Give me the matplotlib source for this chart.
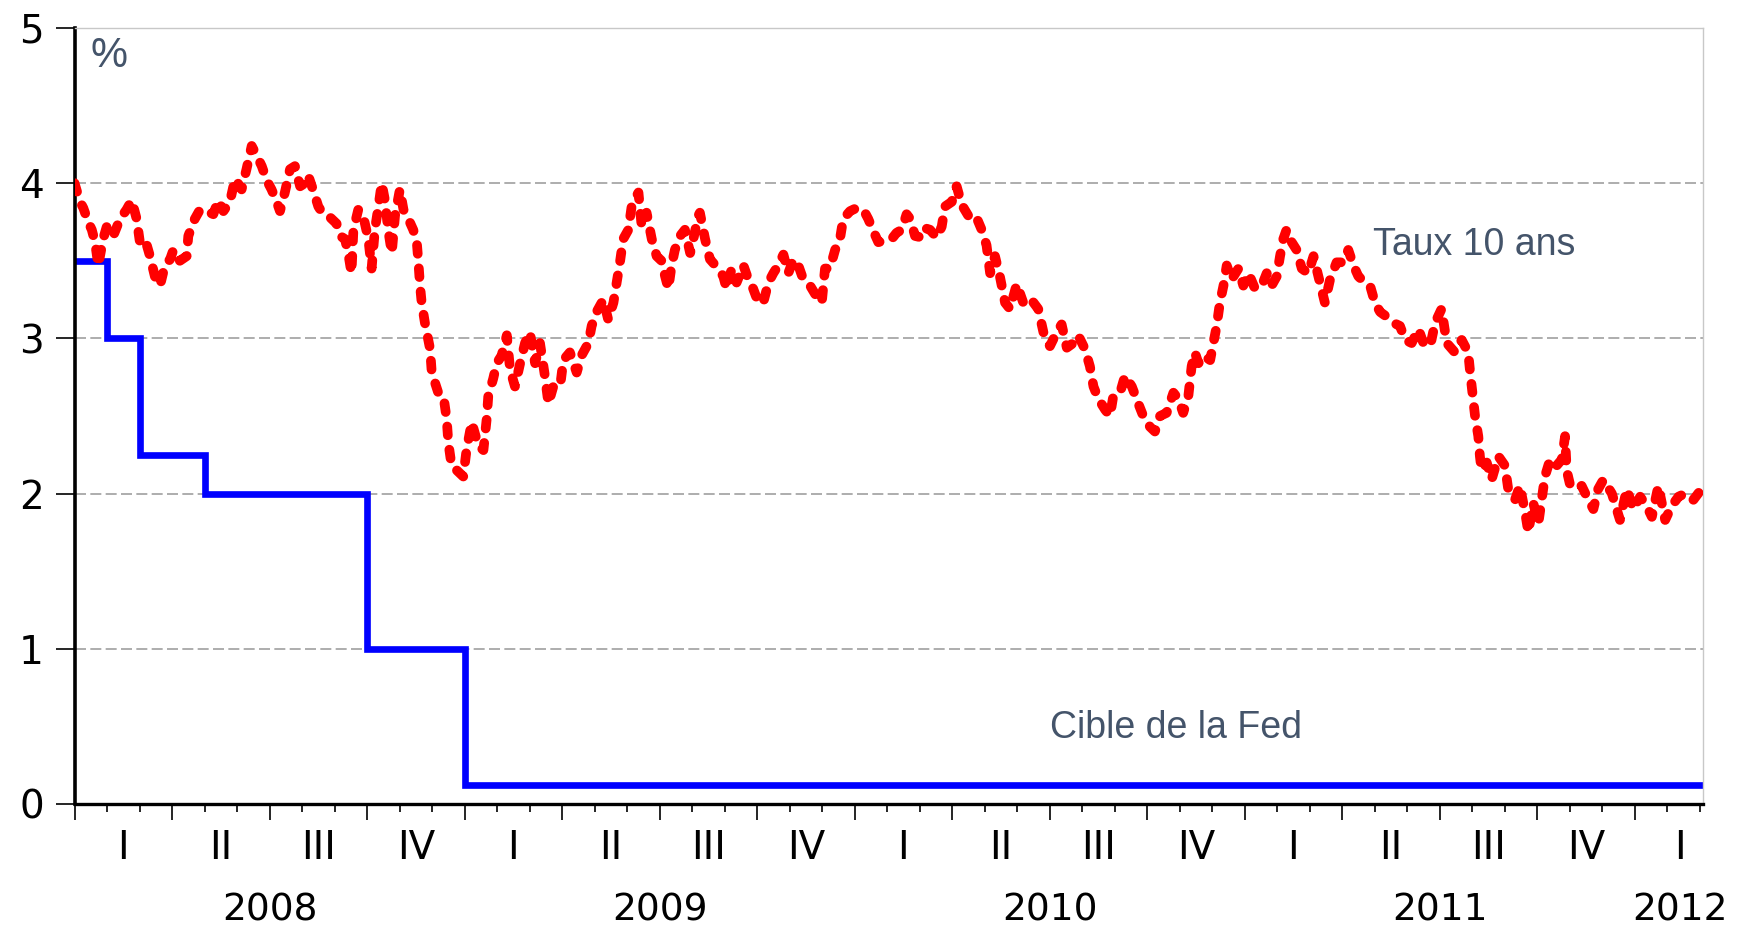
import matplotlib
matplotlib.use("Agg")
import matplotlib.pyplot as plt

# x = months since Jan 2008
taux_mois = [0.00, 0.17, 0.27, 0.42, 0.53, 0.63, 0.73, 0.88, 0.99, 1.19, 1.40, 1.60, 1.76, 1.91, 2.01, 2.17,
             2.32, 2.47, 2.63, 2.78, 2.94, 3.04, 3.24, 3.45, 3.50, 3.70, 3.86, 4.06, 4.27, 4.42, 4.58, 4.78,
             4.94, 5.14, 5.29, 5.45, 5.60, 5.76, 5.91, 6.06, 6.22, 6.32, 6.47, 6.63, 6.78, 6.94, 7.09, 7.19,
             7.35, 7.50, 7.65, 7.86, 8.06, 8.17, 8.32, 8.42, 8.52,
             8.58, 8.73, 8.88, 9.04, 9.14, 9.24, 9.35, 9.45, 9.55, 9.65, 9.76, 9.86, 10.01, 10.12, 10.27,
             10.42, 10.53, 10.58, 10.63, 10.68, 10.78, 10.94, 10.99, 11.19, 11.35, 11.45, 11.50, 11.60,
             11.76, 11.96, 12.06, 12.22, 12.42, 12.58, 12.68, 12.73, 12.88, 12.99, 13.14, 13.30, 13.40,
             13.55, 13.71, 13.86, 14.01, 14.17, 14.32, 14.47, 14.58, 14.73, 14.94, 15.04, 15.24, 15.45,
             15.60, 15.81, 15.91, 16.06, 16.27, 16.42, 16.58, 16.68, 16.78, 16.88, 17.04, 17.14,
             17.19, 17.35, 17.45, 17.60, 17.76, 17.91, 18.06, 18.17, 18.27, 18.37, 18.47, 18.63, 18.78,
             18.94, 19.04, 19.19, 19.24, 19.40, 19.55, 19.76, 19.96, 20.06, 20.22, 20.37, 20.58, 20.73,
             20.88, 21.04, 21.19, 21.35, 21.50, 21.65, 21.81, 21.96, 22.12, 22.27, 22.42, 22.63, 22.83,
             22.99, 23.09, 23.24, 23.40, 23.55, 23.65, 23.86, 24.06, 24.27, 24.42, 24.58, 24.73, 24.94,
             25.14, 25.29, 25.45, 25.60,
             25.71, 25.86, 26.06, 26.17, 26.32, 26.53, 26.68, 26.78, 26.99, 27.14, 27.30, 27.50, 27.71,
             27.91, 28.06, 28.17, 28.32, 28.47, 28.63, 28.78, 28.99, 29.19, 29.40, 29.65, 29.81, 30.01,
             30.22, 30.37, 30.53, 30.73, 30.88, 31.09, 31.24, 31.35, 31.50, 31.71, 31.86, 31.96, 32.17,
             32.32, 32.53, 32.73, 32.88, 33.09, 33.24, 33.40, 33.60, 33.81, 33.96, 34.11, 34.27,
             34.37, 34.47, 34.58, 34.73, 34.94, 35.04, 35.14, 35.24, 35.35, 35.45, 35.60, 35.81, 35.96,
             36.12, 36.32, 36.53, 36.68, 36.83, 36.99, 37.09, 37.19, 37.29, 37.45, 37.60, 37.76, 37.96,
             38.12, 38.27, 38.47, 38.63, 38.83, 39.04, 39.19, 39.35, 39.50, 39.70, 39.86, 40.01, 40.17,
             40.37, 40.58, 40.78, 40.94, 41.14, 41.35, 41.50,
             41.71, 41.86, 42.06, 42.22, 42.47, 42.68, 42.88, 42.94, 43.02, 43.09, 43.19, 43.24, 43.29,
             43.45, 43.60, 43.81, 44.01, 44.11, 44.32, 44.47, 44.63, 44.73, 44.88, 45.04, 45.14, 45.24,
             45.40, 45.60, 45.76, 45.86, 45.91, 46.01, 46.22, 46.37, 46.53, 46.73, 46.88, 47.04, 47.30,
             47.55, 47.76, 47.96, 48.17, 48.37, 48.53, 48.73, 48.94, 49.14, 49.35, 49.55, 49.81, 50.06]

taux_10ans = [4.00, 3.88, 3.84, 3.75, 3.70, 3.62, 3.47, 3.64, 3.72, 3.66, 3.77, 3.83, 3.89, 3.77, 3.62, 3.64,
              3.53, 3.40, 3.34, 3.47, 3.51, 3.57, 3.50, 3.53, 3.66, 3.77, 3.83, 3.82, 3.80, 3.89, 3.82, 3.88,
              4.03, 3.96, 4.09, 4.24, 4.18, 4.11, 4.02, 3.96, 3.88, 3.82, 3.94, 4.09, 4.11, 3.98, 4.00, 4.05,
              3.95, 3.85, 3.80, 3.78, 3.74, 3.66, 3.64, 3.55, 3.42,
              3.70, 3.83, 3.79, 3.64, 3.45, 3.70, 3.85, 4.00, 3.89, 3.70, 3.55, 3.79, 3.96, 3.83, 3.77,
              3.70, 3.62, 3.49, 3.34, 3.23, 3.10, 2.93, 2.78, 2.65, 2.63, 2.48, 2.33, 2.18,
              2.15, 2.11, 2.28, 2.46, 2.31, 2.28, 2.48, 2.63, 2.74, 2.84, 2.89, 3.02, 2.80,
              2.69, 2.84, 2.97, 3.04, 2.84, 2.97, 2.76, 2.58, 2.69, 2.69, 2.86, 2.91, 2.78,
              2.89, 2.97, 3.08, 3.17, 3.25, 3.12, 3.23, 3.36, 3.49, 3.64, 3.70, 3.85,
              3.88, 3.94, 3.72, 3.81, 3.64, 3.53, 3.50, 3.40, 3.32, 3.47, 3.57, 3.66, 3.70,
              3.55, 3.64, 3.79, 3.81, 3.64, 3.51, 3.46, 3.40, 3.32, 3.45, 3.36, 3.47, 3.38,
              3.32, 3.23, 3.23, 3.36, 3.42, 3.47, 3.54, 3.42, 3.51, 3.47, 3.38, 3.34, 3.27,
              3.23, 3.45, 3.45, 3.57, 3.64, 3.77, 3.82, 3.84, 3.83, 3.77, 3.69, 3.62, 3.63,
              3.64, 3.68, 3.70, 3.80,
              3.77, 3.66, 3.65, 3.71, 3.70, 3.65, 3.72, 3.85, 3.88, 3.98, 3.86, 3.79, 3.80,
              3.70, 3.60, 3.42, 3.53, 3.40, 3.23, 3.19, 3.35, 3.23, 3.26, 3.19, 3.04, 2.95,
              3.04, 3.09, 2.94, 2.97, 3.02, 2.93, 2.82, 2.69, 2.61, 2.54, 2.50, 2.63, 2.65,
              2.76, 2.69, 2.58, 2.50, 2.43, 2.40, 2.50, 2.52, 2.65, 2.61, 2.52, 2.63,
              2.82, 2.91, 2.84, 2.89, 2.86, 2.97, 3.08, 3.23, 3.34, 3.47, 3.38, 3.45, 3.34,
              3.42, 3.32, 3.34, 3.42, 3.34, 3.40, 3.53, 3.64, 3.70, 3.62, 3.57, 3.45, 3.42,
              3.53, 3.40, 3.23, 3.38, 3.49, 3.49, 3.57, 3.47, 3.40, 3.36, 3.34, 3.23, 3.17,
              3.14, 3.10, 3.08, 2.99, 2.97, 3.06, 2.97,
              2.95, 3.10, 3.19, 2.97, 2.91, 2.99, 2.91, 2.78, 2.63, 2.50, 2.37, 2.24, 2.15,
              2.20, 2.09, 2.24, 2.18, 2.03, 1.96, 2.05, 1.88, 1.75, 1.94, 1.81, 1.96, 2.11,
              2.22, 2.18, 2.22, 2.37, 2.15, 2.06, 2.03, 2.05, 1.98, 1.90, 2.03, 2.09, 2.00,
              1.83, 2.03, 1.90, 1.98, 1.92, 1.85, 2.05, 1.83, 1.92, 1.98, 2.00, 1.96, 2.03]

fed_mois = [0, 1, 2, 4, 9, 12, 50.1]
fed_cible = [3.5, 3.0, 2.25, 2.0, 1.0, 0.125, 0.125]

trimestres = ["I", "II", "III", "IV"] * 4 + ["I"]
pos_trimestres = [1.5 + 3 * k for k in range(16)] + [49.4]
annees = ["2008", "2009", "2010", "2011", "2012"]
pos_annees = [6, 18, 30, 42, 49.4]

plt.rcParams['font.family'] = ['DejaVu Sans']
texte_couleur = '#44546a'
narrow = ['Liberation Sans Narrow', 'Liberation Sans', 'DejaVu Sans']

fig = plt.figure(figsize=(17.46, 9.30), dpi=100)
ax = fig.add_axes([0.0427, 0.1355, 0.9326, 0.8344])

# grille horizontale
for y in [1, 2, 3, 4]:
    ax.axhline(y, color='#a0a0a0', lw=1.2, ls=(0, (6.6, 2.6)), zorder=1)

ax.step(fed_mois, fed_cible, where='post', color='#0000ff', lw=4.8,
        solid_joinstyle='miter', zorder=2)
ax.plot(taux_mois, taux_10ans, color='#ff0000', lw=7, ls=(0, (0.9, 1.5)),
        dash_capstyle='round', zorder=3)

ax.set_xlim(0, 50.1)
ax.set_ylim(0, 5)

ax.spines['left'].set_linewidth(2.6)
ax.spines['bottom'].set_linewidth(2.4)
for s in ['top', 'right']:
    ax.spines[s].set_color('#c8c8c8')
    ax.spines[s].set_linewidth(1.0)

ax.set_yticks(range(6))
ax.tick_params(axis='y', direction='out', length=14, width=1.2, pad=8, labelsize=28)
ax.set_xticks(range(0, 51, 3))
ax.set_xticks(range(0, 51), minor=True)
ax.tick_params(axis='x', which='major', direction='out', length=11.5, width=1.2, labelbottom=False)
ax.tick_params(axis='x', which='minor', direction='out', length=5.8, width=1.2)

sec_q = ax.secondary_xaxis('bottom')
sec_q.set_xticks(pos_trimestres, labels=trimestres)
sec_q.tick_params(length=0, pad=18, labelsize=28)
sec_q.spines['bottom'].set_visible(False)

sec_a = ax.secondary_xaxis('bottom')
sec_a.set_xticks(pos_annees, labels=annees)
sec_a.tick_params(length=0, pad=64, labelsize=27)
sec_a.spines['bottom'].set_visible(False)

ax.text(0.5, 4.75, "%", fontsize=30, color=texte_couleur, family=['Liberation Sans', 'DejaVu Sans'],
        va='baseline')
ax.text(39.95, 3.537, "Taux 10 ans", fontsize=27, color=texte_couleur, family=narrow, va='baseline')
ax.text(30.0, 0.425, "Cible de la Fed", fontsize=27, color=texte_couleur, family=narrow, va='baseline')

fig.savefig("out.png", dpi=100)
